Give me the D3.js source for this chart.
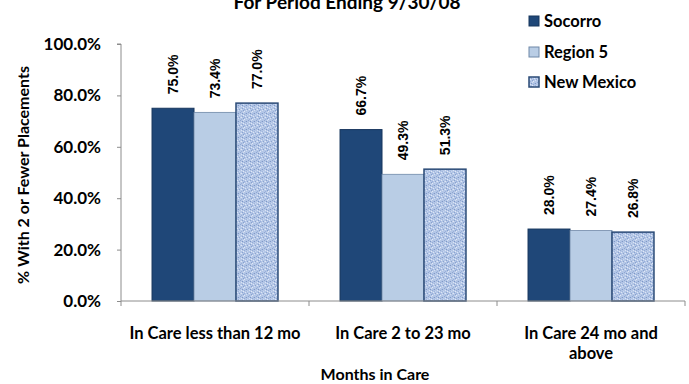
<!DOCTYPE html>
<html>
<head>
<meta charset="utf-8">
<script src="https://cdn.jsdelivr.net/npm/d3@7"></script>
<style>
  html, body { margin: 0; padding: 0; background: #fff; }
  svg { display: block; }
  text { font-family: Lato, "Open Sans", sans-serif; fill: #000; }
</style>
</head>
<body>
<svg id="chart" width="689" height="384"></svg>
<script>
// ---- data ----
const categories = ["In Care less than 12 mo", "In Care 2 to 23 mo", "In Care 24 mo and\nabove"];
const seriesNames = ["Socorro", "Region 5", "New Mexico"];
const socorro   = [75.0, 66.7, 28.0];
const region5   = [73.4, 49.3, 27.4];
const newMexico = [77.0, 51.3, 26.8];
const yTicks = [0, 20, 40, 60, 80, 100];
const titleText = "For Period Ending 9/30/08";
const yTitle = "% With 2 or Fewer Placements";
const xTitle = "Months in Care";
const sourceText = "Source: FSMOS Rolling 12 Months";

const seriesValues = [socorro, region5, newMexico];

// ---- layout ----
const W = 689, H = 384;
const plot = { left: 121, right: 685, top: 44, bottom: 301 };

const svg = d3.select("#chart");

// texture pattern for New Mexico
const defs = svg.append("defs");
const pat = defs.append("pattern")
  .attr("id", "nmTex").attr("patternUnits", "userSpaceOnUse")
  .attr("width", 8).attr("height", 8);
pat.append("rect").attr("width", 8).attr("height", 8).attr("fill", "#b3c6e6");
const specks = [
  [0,0,"#8ea6d2"],[3,0,"#d3def2"],[6,1,"#7f98c8"],[1,2,"#dbe4f5"],[4,2,"#93aad4"],
  [7,3,"#c9d7f0"],[2,4,"#8aa2cf"],[5,4,"#dde6f6"],[0,5,"#c6d4ee"],[3,6,"#869fcc"],
  [6,6,"#d6e0f3"],[1,7,"#9bb0d8"],[4,7,"#e2e9f7"],[7,5,"#8ba3cf"],[5,1,"#a6bbe0"],
  [2,1,"#7d96c6"],[6,3,"#a0b5dc"],[1,5,"#dfe7f6"],[4,5,"#97addb"],[3,3,"#e4eaf8"]
];
specks.forEach(s => pat.append("rect").attr("x", s[0]).attr("y", s[1])
  .attr("width", 1).attr("height", 1).attr("fill", s[2]));

const fills = ["#1f4778", "#b9cde5", "url(#nmTex)"];
const strokes = ["#17365d", "#6f88a8", "#2a4a76"];
const strokeW = [1, 0.8, 1.5];
const legendFills = ["#1f4778", "#b9cde5", "url(#nmTex)"];

// ---- scales ----
const x0 = d3.scaleBand().domain(categories)
  .range([plot.left, plot.right]).paddingInner(0.33).paddingOuter(0.165);
const x1 = d3.scaleBand().domain(seriesNames).range([0, x0.bandwidth()]);
const y = d3.scaleLinear().domain([0, 100]).range([plot.bottom, plot.top]);

// ---- bars ----
const rows = categories.map((c, i) => ({
  cat: c,
  vals: seriesNames.map((s, j) => ({ s, j, v: seriesValues[j][i] }))
}));

const groups = svg.append("g").selectAll("g").data(rows).join("g")
  .attr("transform", d => `translate(${x0(d.cat)},0)`);

groups.selectAll("rect").data(d => d.vals).join("rect")
  .attr("x", d => x1(d.s))
  .attr("y", d => y(d.v))
  .attr("width", x1.bandwidth())
  .attr("height", d => y(0) - y(d.v))
  .attr("fill", d => fills[d.j])
  .attr("stroke", d => strokes[d.j])
  .attr("stroke-width", d => strokeW[d.j]);

// value labels (rotated)
groups.selectAll("text.val").data(d => d.vals).join("text")
  .attr("class", "val")
  .attr("transform", d => `translate(${x1(d.s) + x1.bandwidth() / 2 + 5},${y(d.v) - 14}) rotate(-90)`)
  .attr("text-anchor", "start")
  .style("font-family", "'Liberation Sans', Arial, sans-serif")
  .style("font-weight", "bold")
  .style("font-size", "14px")
  .text(d => d.v.toFixed(1) + "%");

// ---- y axis ----
const yAxis = d3.axisLeft(y).tickValues(yTicks).tickSize(4).tickPadding(16)
  .tickFormat(d => d.toFixed(1) + "%");
const yg = svg.append("g").attr("transform", `translate(${plot.left},0)`).call(yAxis);
yg.select(".domain").attr("stroke", "#8c8c8c").attr("d", `M-4,${plot.top}H0V${plot.bottom}`);
yg.selectAll(".tick line").attr("stroke", "#8c8c8c");
yg.selectAll(".tick text").style("font-size", "17px").style("font-weight", "bold")
  .style("font-family", "Lato, sans-serif").attr("fill", "#000");

// ---- x axis ----
const xg = svg.append("g").attr("transform", `translate(0,${plot.bottom})`);
xg.append("line").attr("x1", plot.left).attr("x2", plot.right)
  .attr("y1", 0).attr("y2", 0).attr("stroke", "#8c8c8c");
const sepPos = [plot.left].concat(categories.map(c => x0(c) + x0.bandwidth() + x0.step() * x0.paddingInner() / 2));
sepPos[sepPos.length - 1] = plot.right;
xg.selectAll("line.sep").data(sepPos).join("line").attr("class", "sep")
  .attr("x1", d => d).attr("x2", d => d).attr("y1", 0).attr("y2", 5)
  .attr("stroke", "#8c8c8c");

const catLabels = svg.append("g").selectAll("text").data(categories).join("text")
  .attr("x", d => x0(d) + x0.bandwidth() / 2)
  .attr("y", 339)
  .attr("text-anchor", "middle")
  .style("font-size", "16.5px").style("font-weight", "bold");
catLabels.each(function(d) {
  const t = d3.select(this);
  d.split("\n").forEach((line, i) => {
    t.append("tspan").attr("x", x0(d) + x0.bandwidth() / 2)
      .attr("dy", i === 0 ? 0 : 20).text(line);
  });
});

// axis titles
svg.append("text").attr("x", 375).attr("y", 380).attr("text-anchor", "middle")
  .style("font-size", "16px").style("font-weight", "bold").text(xTitle);

svg.append("text").attr("transform", `translate(29,175) rotate(-90)`)
  .attr("text-anchor", "middle")
  .style("font-size", "16px").style("font-weight", "bold").text(yTitle);

// chart title (partially cut at top)
svg.append("text").attr("x", 347).attr("y", 9).attr("text-anchor", "middle")
  .style("font-size", "19px").style("font-weight", "bold").text(titleText);

// source (cut at bottom)
svg.append("text").attr("x", 2).attr("y", 396)
  .style("font-size", "15px").style("font-weight", "bold").text(sourceText);

// ---- legend ----
const legendY = [21, 52, 82];
const lg = svg.append("g").selectAll("g").data(seriesNames).join("g")
  .attr("transform", (d, i) => `translate(529,${legendY[i]})`);
lg.append("rect").attr("x", 0).attr("y", -5).attr("width", 10).attr("height", 10)
  .attr("fill", (d, i) => legendFills[i])
  .attr("stroke", (d, i) => strokes[i]).attr("stroke-width", (d, i) => i === 2 ? 1.5 : 1);
lg.append("text").attr("x", 15).attr("y", 0).attr("dy", "0.35em")
  .style("font-size", "16.5px").style("font-weight", "bold").text(d => d);
</script>
</body>
</html>
